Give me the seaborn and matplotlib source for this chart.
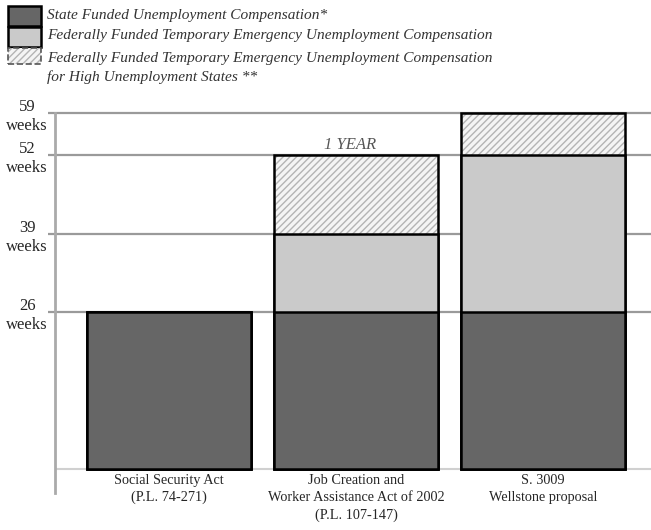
import matplotlib
matplotlib.use('Agg')
import matplotlib.pyplot as plt
from matplotlib.patches import Rectangle
import seaborn as sns
import pandas as pd

# weeks of unemployment benefits under each law
laws = ["Social Security Act\n(P.L. 74-271)",
        "Job Creation and\nWorker Assistance Act of 2002\n(P.L. 107-147)",
        "S. 3009\nWellstone proposal"]
state_weeks = [26, 26, 26]
federal_weeks = [0, 13, 26]
high_unemp_weeks = [0, 13, 7]
week_ticks = [26, 39, 52, 59]
legend_labels = ["State Funded Unemployment Compensation*",
                 "Federally Funded Temporary Emergency Unemployment Compensation",
                 "Federally Funded Temporary Emergency Unemployment Compensation\nfor High Unemployment States **"]

sns.set_theme(style='white')
plt.rcParams['font.family'] = ['Liberation Serif', 'DejaVu Serif']
plt.rcParams['hatch.linewidth'] = 1.0

df = pd.DataFrame({'law': laws, 'state': state_weeks,
                   'federal': federal_weeks, 'high': high_unemp_weeks})
df['to_federal'] = df['state'] + df['federal']
df['total'] = df['to_federal'] + df['high']

W, H = 651, 530
fig = plt.figure(figsize=(W / 100, H / 100), dpi=100)
ax = fig.add_axes([55 / W, 37 / H, 596 / W, 398 / H])

kw = dict(data=df, x='law', order=laws, width=0.88, errorbar=None, ax=ax,
          saturation=1)
# stacked bars drawn as overlapping cumulative totals
sns.barplot(y='total', color='#f4f4f4', edgecolor='#b4b4b4', linewidth=0,
            hatch='/////', **kw)
sns.barplot(y='total', fill=False, color='black', linewidth=1.8, **kw)
sns.barplot(y='to_federal', color='#cacaca', edgecolor='black', linewidth=1.8, **kw)
sns.barplot(y='state', color='#666666', edgecolor='black', linewidth=1.8, **kw)

ax.set_xlim(-0.61, 2.578)
ax.set_ylim(-4, 62)
ax.set_xlabel('')
ax.set_ylabel('')

ax.set_yticks(week_ticks)
ax.set_yticklabels([f"{w}\nweeks" for w in week_ticks], fontsize=12,
                   linespacing=1.25)
for t in ax.get_yticklabels():
    t.set_multialignment('center')
ax.tick_params(axis='y', left=True, length=5, width=1.6, color='#9a9a9a', pad=0)
# labels sit just under the zero line, inside the axes' lower margin
ax.tick_params(axis='x', length=0, pad=-14, labelsize=10.3)
for t in ax.get_xticklabels():
    t.set_linespacing(1.42)
ax.grid(axis='y', color='#9a9a9a', linewidth=1.6)
ax.set_axisbelow(True)
ax.axhline(0, color='#d0d0d0', linewidth=1.5, zorder=0.5)

for s in ['top', 'right', 'bottom']:
    ax.spines[s].set_visible(False)
ax.spines['left'].set_color('#aaaaaa')
ax.spines['left'].set_linewidth(2)
ax.spines['left'].set_bounds(-4, 59)

ax.text(0.97, 52.4, '1 YEAR', ha='center', va='bottom', style='italic',
        fontsize=12, color='#555555')

# legend drawn by hand: stacked swatches at top left
def fx(x):
    return x / W

def fy(y):
    return 1 - y / H

swatches = [('#666666', None, 6, 26), ('#cacaca', None, 27, 47), ('#f4f4f4', '/////', 48, 64)]
for fc, hatch, y0, y1 in swatches:
    if hatch:
        fig.add_artist(Rectangle((fx(8), fy(y1)), fx(33), (y1 - y0) / H,
                                 transform=fig.transFigure, facecolor=fc,
                                 edgecolor='#b4b4b4', linewidth=0, hatch=hatch))
        fig.add_artist(Rectangle((fx(8), fy(y1)), fx(33), (y1 - y0) / H,
                                 transform=fig.transFigure, facecolor='none',
                                 edgecolor='#555555', linewidth=1.2, linestyle='--'))
    else:
        fig.add_artist(Rectangle((fx(8), fy(y1)), fx(33), (y1 - y0) / H,
                                 transform=fig.transFigure, facecolor=fc,
                                 edgecolor='black', linewidth=1.8))

for label, y in zip(legend_labels, [15, 36, 68]):
    fig.text(fx(47), fy(y), label, ha='left', va='center',
             style='italic', fontsize=11.1, color='#333333', linespacing=1.5)

fig.savefig('out.png', dpi=100)
